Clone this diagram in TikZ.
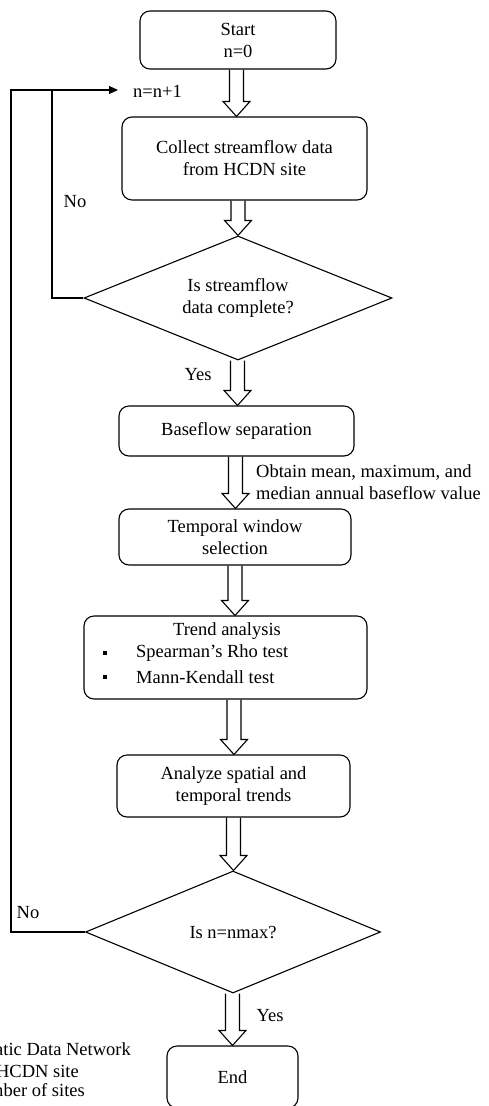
\documentclass[tikz,border=0pt]{standalone}
\usepackage{fontspec}
\setmainfont{Liberation Serif}
\usetikzlibrary{shapes.geometric,arrows.meta,calc}
\tikzset{
  box/.style={draw, rounded corners=10pt, line width=1.1pt, align=center, inner sep=2pt},
  dia/.style={draw, diamond, line width=1.1pt, align=center, inner sep=0pt, aspect=2.5},
  lbl/.style={inner sep=0pt, align=left},
  ln/.style={line width=1.1pt},
}
\newcommand\barrow[3]{%
  \draw[ln] let \p1=(#1.south), \p2=(#2.north), \p3=(#3,0) in
    (\x3-7pt,\y1) -- (\x3-7pt,\y2+15pt) -- (\x3-13.5pt,\y2+15pt) -- (\x3,\y2)
    -- (\x3+13.5pt,\y2+15pt) -- (\x3+7pt,\y2+15pt) -- (\x3+7pt,\y1);}
\begin{document}
\begin{tikzpicture}[x=1pt,y=-1pt,font=\fontsize{18.5}{22}\selectfont]
\useasboundingbox (0,0) rectangle (489,1106);
% nodes
\node[box, minimum width=196pt, minimum height=58pt] (start) at (238,40) {Start\\n=0};
\node[box, minimum width=245pt, minimum height=83pt] (collect) at (244.5,158.5) {Collect streamflow data\\from HCDN site};
\node[dia, minimum width=308pt, minimum height=124pt] (d1) at (238,298) {Is streamflow\\data complete?};
\node[box, minimum width=235pt, minimum height=50pt] (base) at (236.5,431) {Baseflow separation};
\node[box, minimum width=232pt, minimum height=56pt] (temp) at (235,537) {Temporal window\\selection};
\node[box, minimum width=283pt, minimum height=83pt] (trend) at (225.5,657.5) {};
\node[lbl] (trendt) at (227,631) {Trend analysis};
\node[lbl, anchor=west] (sp) at (136,653) {Spearman’s Rho test};
\node[lbl, anchor=west] (mk) at (136,677) {Mann-Kendall test};
\fill (103,651) rectangle (107,655);
\fill (103,675) rectangle (107,679);
\node[box, minimum width=233pt, minimum height=62pt] (anal) at (233.5,786) {Analyze spatial and\\temporal trends};
\node[dia, minimum width=295pt, minimum height=122pt] (d2) at (233,932) {Is n=nmax?};
\node[box, minimum width=131pt, minimum height=62pt] (end) at (232.5,1077) {End};
\node[lbl, anchor=west] (inc) at (133,91) {n=n+1};
% labels
\node[lbl] (no1) at (75,202) {No};
\node[lbl] (no2) at (28,913) {No};
\node[lbl] (yes1) at (198,375) {Yes};
\node[lbl] (yes2) at (270,1016) {Yes};
\node[lbl, anchor=west] (obt) at (256,482) {Obtain mean, maximum, and\\median annual baseflow value};
% legend (cut by the page edge)
\begin{scope}
\clip (0,0) rectangle (489,1106);
\node[lbl, anchor=east] (lg1) at (131,1051) {Hydro-Climatic Data Network};
\node[lbl, anchor=east] (lg2) at (79,1071) {HCDN site};
\node[lbl, anchor=east] (lg3) at (85,1090) {number of sites};
\end{scope}
% block arrows
\barrow{start}{collect}{236.5}
\barrow{collect}{d1}{238}
\barrow{d1}{base}{237.5}
\barrow{base}{temp}{235.5}
\barrow{temp}{trend}{235}
\barrow{trend}{anal}{234}
\barrow{anal}{d2}{233.5}
\barrow{d2}{end}{232.5}
% loops
\coordinate (o1) at (11,932);
\coordinate (o2) at (11,90);
\coordinate (i1) at (52,298);
\coordinate (i2) at (52,90);
\draw[ln, -{Triangle[length=9pt,width=8pt]}] (d2.west) -- (o1) -- (o2) -- ([xshift=-15pt]inc.west |- o2);
\draw[ln] (d1.west) -- (i1) -- (i2);
\end{tikzpicture}
\end{document}
